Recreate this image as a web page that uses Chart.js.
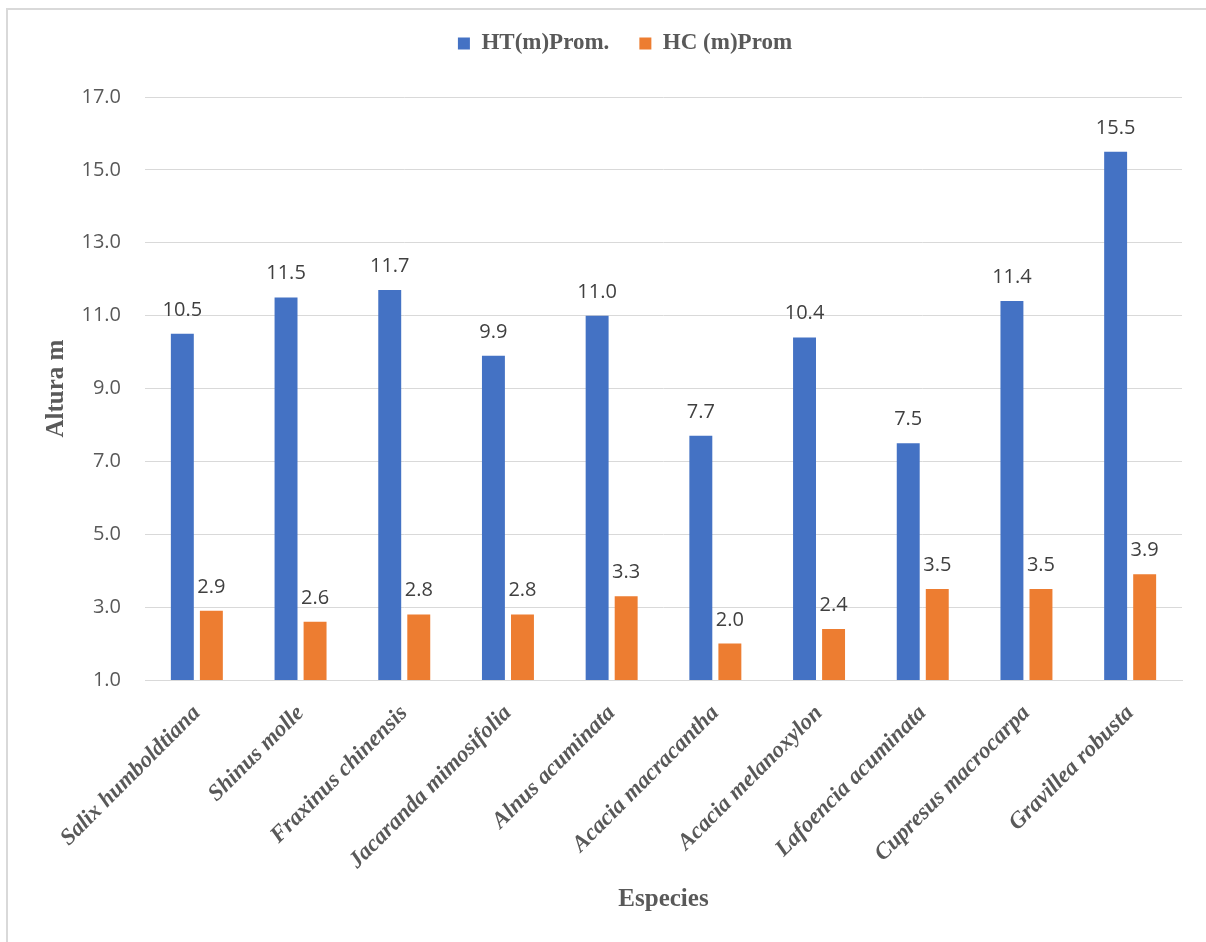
<!DOCTYPE html>
<html>
<head>
<meta charset="utf-8">
<title>Altura por especie</title>
<script src="https://cdn.jsdelivr.net/npm/chart.js@4.4.1/dist/chart.umd.min.js"></script>
<style>
  html, body { margin: 0; padding: 0; background: #fff; overflow: hidden; }
  #frame { position: absolute; left: 6px; top: 8px; width: 1200px; height: 934px;
           border-left: 2px solid #d9d9d9; border-top: 2px solid #d9d9d9; }
  #wrap { position: absolute; left: 0; top: 0; width: 1206px; height: 942px; }
</style>
</head>
<body>
<div id="frame"></div>
<div id="wrap"><canvas id="alturaChart" width="1206" height="942"></canvas></div>
<script>
// Species and mean heights (m)
const especies = [
  'Salix humboldtiana', 'Shinus molle', 'Fraxinus chinensis', 'Jacaranda mimosifolia',
  'Alnus acuminata', 'Acacia macracantha', 'Acacia melanoxylon', 'Lafoencia acuminata',
  'Cupresus macrocarpa', 'Gravillea robusta'
];
const htProm = [10.5, 11.5, 11.7, 9.9, 11.0, 7.7, 10.4, 7.5, 11.4, 15.5];
const hcProm = [2.9, 2.6, 2.8, 2.8, 3.3, 2.0, 2.4, 3.5, 3.5, 3.9];
const yTicks = [1, 3, 5, 7, 9, 11, 13, 15, 17];

const GRAY = '#595959';
const SERIF = '"Liberation Serif", "Times New Roman", serif';

// Writes the value above each bar
const barValues = {
  id: 'barValues',
  afterDatasetsDraw(chart) {
    const ctx = chart.ctx;
    ctx.save();
    ctx.font = '20px "Open Sans", sans-serif';
    ctx.fillStyle = '#404040';
    ctx.textAlign = 'center';
    ctx.textBaseline = 'alphabetic';
    chart.data.datasets.forEach((ds, i) => {
      chart.getDatasetMeta(i).data.forEach((bar, j) => {
        ctx.fillText(ds.data[j].toFixed(1), bar.x, bar.y - 18);
      });
    });
    ctx.restore();
  }
};

// Extra room under the legend, and nudge it a bit to the right
const legendSpace = {
  id: 'legendSpace',
  beforeInit(chart) {
    const fit = chart.legend.fit;
    chart.legend.fit = function () {
      fit.bind(chart.legend)();
      this.height += 32;
    };
  },
  afterLayout(chart) {
    chart.legend.left += 19;
    chart.legend.right += 19;
  }
};

new Chart(document.getElementById('alturaChart'), {
  type: 'bar',
  data: {
    labels: especies,
    datasets: [
      { label: 'HT(m)Prom.', data: htProm, backgroundColor: '#4472c4' },
      { label: 'HC (m)Prom', data: hcProm, backgroundColor: '#ed7d31' }
    ]
  },
  options: {
    responsive: false,
    animation: false,
    categoryPercentage: 0.56,
    barPercentage: 0.79,
    layout: { padding: { top: 2, left: 30, right: 24, bottom: 22 } },
    scales: {
      x: {
        grid: { display: false },
        border: { color: '#d9d9d9', width: 1 },
        ticks: {
          minRotation: 45,
          maxRotation: 45,
          autoSkip: false,
          padding: 12,
          color: GRAY,
          font: { family: SERIF, size: 23, style: 'italic', weight: 'bold' }
        },
        title: {
          display: true,
          text: 'Especies',
          color: GRAY,
          padding: { top: 0, bottom: 5 },
          font: { family: SERIF, size: 25, weight: 'bold' }
        },
        afterFit(scale) { scale.height = 240; }
      },
      y: {
        min: 1,
        max: 17,
        afterBuildTicks(scale) { scale.ticks = yTicks.map(v => ({ value: v })); },
        grid: { color: '#d9d9d9', drawTicks: false },
        border: { display: false },
        ticks: {
          padding: 24,
          color: GRAY,
          font: { family: '"Open Sans", sans-serif', size: 20 },
          callback: v => v.toFixed(1)
        },
        title: {
          display: true,
          text: 'Altura m',
          color: GRAY,
          padding: { top: 12, bottom: 0 },
          font: { family: SERIF, size: 25, weight: 'bold' }
        },
        afterFit(scale) { scale.width = 115; }
      }
    },
    plugins: {
      legend: {
        position: 'top',
        labels: {
          boxWidth: 12,
          boxHeight: 12,
          padding: 30,
          color: GRAY,
          font: { family: SERIF, size: 23, weight: 'bold' }
        }
      },
      tooltip: { enabled: false }
    }
  },
  plugins: [barValues, legendSpace]
});
</script>
</body>
</html>
